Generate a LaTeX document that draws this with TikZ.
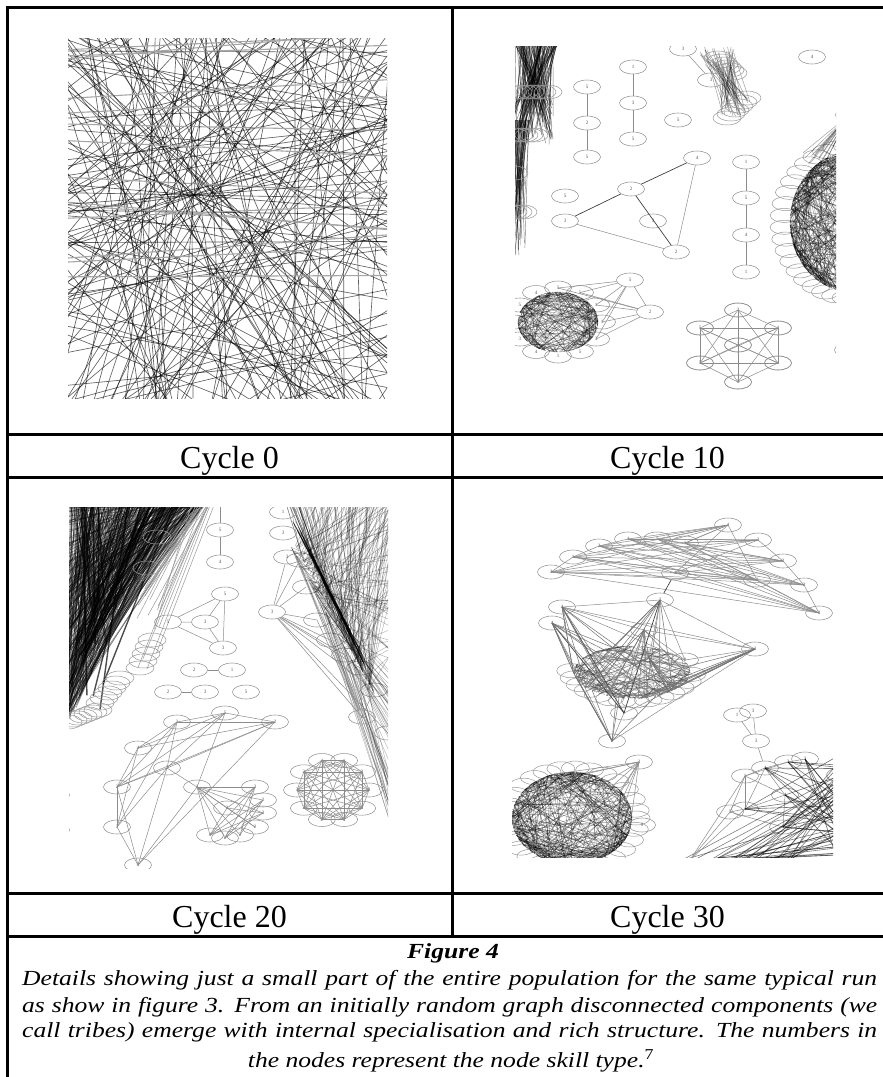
\documentclass[tikz,border=0pt]{standalone}
\usepackage{fontspec}
\setmainfont{Liberation Serif}
\newfontfamily\capfont[FakeStretch=1.19]{Liberation Serif}
\usetikzlibrary{shapes.geometric}
\tikzset{
 frame/.style={line width=3pt,black},
 cyc/.style={anchor=base,inner sep=0pt,font=\fontsize{32}{32}\selectfont},
 gn/.style={ellipse,draw=black!42,line width=0.55pt,minimum width=27pt,minimum height=14pt,inner sep=0pt,font=\fontsize{5}{5}\selectfont,text=black!65},
 ge/.style={draw=black!45,line width=0.5pt},
 gd/.style={draw=black!75,line width=0.7pt},
 ring/.style={draw=black!40,line width=0.5pt},
 dk/.style={draw=black,opacity=0.4,line width=0.45pt},
 rl/.style={draw=black,opacity=0.62,line width=0.65pt}
}
\newcommand\mychords[6]{\foreach \i in {1,...,#5}{\pgfmathsetmacro\myA{rnd*360}\pgfmathsetmacro\myB{rnd*360}\draw[dk,opacity=#6] ({#1+#3*cos(\myA)},{#2+#4*sin(\myA)}) -- ({#1+#3*cos(\myB)},{#2+#4*sin(\myB)});}}
\begin{document}
\begin{tikzpicture}[x=1pt,y=-1pt]
\pgfmathsetseed{4242}
\useasboundingbox (0,0) rectangle (883,1077);
\fill[white] (0,0) rectangle (883,1077);

% ---------------- Panel: Cycle 0
\begin{scope}
\clip (68,38) rectangle (387,398);
\foreach \i in {1,...,165}{\pgfmathsetmacro\px{68+rnd*319}\pgfmathsetmacro\py{38+rnd*360}\pgfmathsetmacro\th{rnd*180}
 \draw[rl] ({\px-600*cos(\th)},{\py-600*sin(\th)}) -- ({\px+600*cos(\th)},{\py+600*sin(\th)});}
\foreach \i in {1,...,14}{\pgfmathsetmacro\py{40+rnd*355}\pgfmathsetmacro\th{-5+rnd*10}
 \draw[black!35,line width=1.1pt] ({68-10},{\py}) -- ({400},{\py+340*sin(\th)});}
\foreach \i in {1,...,14}{\pgfmathsetmacro\th{rnd*180}
 \draw[rl] ({194-600*cos(\th)},{195-600*sin(\th)}) -- ({194+600*cos(\th)},{195+600*sin(\th)});}
\draw[rl] (191,38) -- (193,398);
\draw[rl] (343,38) -- (344,398);
\end{scope}

% ---------------- Panel: Cycle 10
\begin{scope}
\clip (515,46) rectangle (836,393);
\foreach \i in {1,...,140}{\pgfmathsetmacro\xa{515+rnd*42}\pgfmathsetmacro\xb{512+rnd*42}\pgfmathsetmacro\yb{100+rnd*45}\draw[dk,opacity=0.5] (\xa,46) -- (\xb,\yb);}
\foreach \i in {1,...,50}{\pgfmathsetmacro\xa{513+rnd*18}\pgfmathsetmacro\xb{510+rnd*15}\pgfmathsetmacro\yb{180+rnd*80}\draw[dk,opacity=0.5] (\xa,120) -- (\xb,\yb);}
\foreach \k in {0,...,5}\draw[ring] ({518+\k*6},92) ellipse (14 and 7);
\foreach \k in {0,...,4}\draw[ring] ({514+\k*5},135) ellipse (14 and 7);
\foreach \k in {0,...,3}\draw[ring] ({508+\k*5},212) ellipse (14 and 7);
\draw[ring] (514,173) ellipse (14 and 7);
\draw[ring] (502,252) ellipse (14 and 7);
% top middle stack
\foreach \i in {1,...,45}{\pgfmathsetmacro\xa{700+rnd*35}\pgfmathsetmacro\ya{46+rnd*20}\pgfmathsetmacro\xb{720+rnd*30}\pgfmathsetmacro\yb{95+rnd*22}\draw[dk] (\xa,\ya) -- (\xb,\yb);}
\foreach \k in {0,...,5}\draw[ring] ({718+\k*3},{58+\k*3}) ellipse (14 and 7);
\foreach \k in {0,...,5}\draw[ring] ({727+\k*4},{118-\k*4}) ellipse (14 and 7);
\node[gn] (t3a) at (683,49) {3};
\node[gn] (t3b) at (711,80) {3};
\node[gn] (t4) at (812,57) {4};
\node[gn] (tp) at (849,115) {};
\draw[ge] (t3a) -- (t3b);
% chains
\node[gn] (a1) at (587,87) {5};
\node[gn] (a2) at (587,123) {2};
\node[gn] (a3) at (587,157) {5};
\draw[ge] (a1) -- (a2) -- (a3);
\node[gn] (b1) at (633,67) {1};
\node[gn] (b2) at (633,103) {3};
\node[gn] (b3) at (633,139) {5};
\draw[ge] (b1) -- (b2) -- (b3);
\node[gn] (c1) at (678,120) {5};
% triangle graph
\node[gn] (g4) at (697,158) {4};
\node[gn] (g2) at (631,189) {2};
\node[gn] (g3) at (565,221) {3};
\node[gn] (g3b) at (653,221) {3};
\node[gn] (g2b) at (676,252) {2};
\node[gn] (g5) at (565,196) {5};
\draw[gd] (g3) -- (g2);
\draw[gd] (g2) -- (g4);
\draw[ge] (g3) -- (g2b);
\draw[gd] (g2) -- (g2b);
\draw[ge] (g4) -- (g2b);
% chain 1-5-4-1
\node[gn] (d1) at (746,162) {1};
\node[gn] (d2) at (746,198) {5};
\node[gn] (d3) at (746,235) {4};
\node[gn] (d4) at (746,272) {1};
\draw[ge] (d1) -- (d2) -- (d3) -- (d4);
% big right cluster
\foreach \k in {0,...,19}{\pgfmathsetmacro\ang{95+\k*9}\draw[ring] ({852+68*cos(\ang)},{222+76*sin(\ang)}) ellipse (14 and 7);}
\mychords{852}{222}{62}{70}{420}{0.4}
\foreach \i in {1,...,14}{\pgfmathsetmacro\xb{803+rnd*22}\pgfmathsetmacro\yb{150+rnd*25}\draw[dk] (tp) -- (\xb,\yb);}
% bottom-left cluster
\foreach \k/\l in {0/1,1/3,2/5,3/1,4/4,5/3,6/3,7/5,8/4,9/5,10/5,11/1}{\node[gn] (bl\k) at ({558+44*cos(\k*30)},{322+34*sin(\k*30)}) {\l};}
\mychords{558}{322}{40}{30}{220}{0.35}
\node[gn] (n5) at (630,280) {5};
\node[gn] (n2) at (650,312) {2};
\draw[ge] (n5) -- (n2);
\foreach \k in {9,10,11,0,1}{\draw[ge] (n5) -- (bl\k.center); \draw[ge] (n2) -- (bl\k.center);}
% heptagon
\node[gn] (h1) at (738,310) {3};
\node[gn] (h2) at (700,328) {5};
\node[gn] (h3) at (778,328) {4};
\node[gn] (h4) at (700,363) {5};
\node[gn] (h5) at (778,363) {4};
\node[gn] (h6) at (738,382) {5};
\node[gn] (h7) at (738,345) {2};
\foreach \a in {1,...,7}{\foreach \b in {1,...,7}{\ifnum\a<\b \draw[ge] (h\a.center) -- (h\b.center);\fi}}
\foreach \k in {1,...,7}{\node[gn,fill=white,fill opacity=0] at (h\k) {};}
\node[gn] (pr) at (848,350) {};
\end{scope}

% ---------------- Panel: Cycle 20
\begin{scope}
\clip (69,507) rectangle (388,868);
\foreach \i in {1,...,380}{\pgfmathsetmacro\t{rnd}\pgfmathsetmacro\xa{69+rnd*135}\pgfmathsetmacro\yb{560+\t*160}\pgfmathsetmacro\xb{60+rnd*(150-80*\t-60)}
 \draw[dk,opacity=0.45] (\xa,507) -- (\xb,\yb);}
\foreach \i in {1,...,120}{\pgfmathsetmacro\ya{507+rnd*210}\pgfmathsetmacro\xb{69+rnd*130}\draw[dk,opacity=0.45] (69,\ya) -- (\xb,507);}
\foreach \i in {1,...,18}{\pgfmathsetmacro\xa{80+rnd*110}\pgfmathsetmacro\yb{600+rnd*110}\pgfmathsetmacro\xb{65+rnd*40}\draw[black,opacity=0.7,line width=1.4pt] (\xa,507) -- (\xb,\yb);}
\foreach \i in {1,...,18}{\pgfmathsetmacro\xa{190+rnd*25}\pgfmathsetmacro\xb{135+rnd*25}\pgfmathsetmacro\yb{580+rnd*90}\draw[black!40,line width=0.5pt] (\xa,507) -- (\xb,\yb);}
\foreach \k in {0,...,4}\draw[ring] ({152-\k*3},{640+\k*7}) ellipse (14 and 7);
\foreach \k in {0,...,5}\draw[ring] ({120-\k*4},{678+\k*5}) ellipse (14 and 7);
\foreach \k in {0,...,6}\draw[ring] ({98-\k*5},{710+\k*2}) ellipse (14 and 7);
\draw[ring] (157,537) ellipse (14 and 7);
\draw[ring] (147,568) ellipse (14 and 7);
% chain 5-4
\coordinate (s0) at (220,505);
\node[gn] (s5) at (220,530) {5};
\node[gn] (s4) at (220,562) {4};
\draw[ge] (s0) -- (s5) -- (s4);
% triangle cluster
\node[gn] (u5) at (225,594) {5};
\node[gn] (u5l) at (168,622) {5};
\node[gn] (u3) at (205,622) {3};
\node[gn] (u3b) at (223,648) {3};
\draw[ge] (u5l) -- (u3) (u3) -- (u5) (u3) -- (u3b) (u5) -- (u3b) (u5l) -- (u5) (u5l) -- (u3b);
\node[gn] (v2) at (194,670) {2};
\node[gn] (v1) at (232,670) {1};
\draw[ge] (v2) -- (v1);
\node[gn] (w2) at (168,692) {2};
\node[gn] (w3) at (205,692) {3};
\node[gn] (w5) at (246,692) {5};
\draw[ge] (w2) -- (w3);
% right cluster
\foreach \n/\x/\y in {k1/300/560,k2/306/587,k3/317/620,k4/330/640,k5/345/655,k6/360/668,k7/374/690}{\node[gn] (\n) at (\x,\y) {};}
\foreach \i in {1,...,120}{\pgfmathsetmacro\t{rnd}\pgfmathsetmacro\xa{290+\t*80}\pgfmathsetmacro\ya{545+\t*150}\pgfmathsetmacro\yb{507+rnd*320}\draw[dk,opacity=0.3] (\xa,\ya) -- (390,\yb);}
\foreach \i in {1,...,110}{\pgfmathsetmacro\t{rnd}\pgfmathsetmacro\xa{295+\t*80}\pgfmathsetmacro\ya{545+\t*150}\pgfmathsetmacro\xb{285+rnd*105}\draw[dk,opacity=0.35] (\xa,\ya) -- (\xb,507);}
\foreach \i in {1,...,60}{\pgfmathsetmacro\t{rnd}\pgfmathsetmacro\s{rnd}\draw[dk,opacity=0.45] ({292+\t*75},{520+\t*150}) -- ({295+\s*75},{520+\s*150});}
\node[gn] (r1) at (283,512) {1};
\node[gn] (r2) at (283,533) {3};
\node[gn] (r3) at (287,557) {3};
\node[gn] (rr) at (272,612) {3};
\node[gn] (r4) at (362,717) {4};
\node[gn] (r5) at (388,733) {};
\foreach \n in {k1,k2,k3,k4,k5,k6,k7,r4,r5}{\draw[ge] (rr) -- (\n.center);}
\foreach \n in {k3,k4,k5,k6,k7}{\draw[ge] (r4) -- (\n.center);}
\draw[ge] (rr) -- (r3);
% bottom graph
\node[gn] (b5) at (225,713) {5};
\node[gn] (b2a) at (177,722) {2};
\node[gn] (b2b) at (275,722) {2};
\node[gn] (b4) at (138,748) {4};
\node[gn] (b2c) at (167,768) {2};
\node[gn] (b2d) at (197,787) {2};
\node[gn] (b2e) at (117,787) {2};
\node[gn] (b3) at (117,827) {3};
\node[gn] (b4b) at (138,865) {4};
\foreach \a/\b in {b5/b2a,b5/b2b,b5/b4,b5/b2c,b5/b2e,b2a/b2b,b2a/b4,b2a/b2c,b2a/b3,b2b/b4,b2b/b2c,b2b/b2e,b2b/b4b,b4/b2e,b4/b3,b2c/b2e,b2c/b2d,b2c/b3,b2e/b3,b2e/b4b,b3/b4b,b2d/b4b,b2c/b4b,b5/b2d,b2a/b2e}{\draw[ge] (\a.center) -- (\b.center);}
\node[gn] (e3a) at (255,787) {3};
\node[gn] (e2a) at (263,800) {2};
\node[gn] (e3b) at (263,813) {3};
\node[gn] (e2b) at (255,827) {2};
\node[gn] (e2c) at (240,835) {2};
\node[gn] (e2d) at (225,838) {2};
\node[gn] (e4) at (210,835) {4};
\node[gn] (e3c) at (227,808) {3};
\foreach \n in {e3a,e2a,e3b,e2b,e2c,e2d,e4,e3c}{\draw[ge] (b2d.center) -- (\n.center);}
\foreach \a/\b in {e3a/e2c,e3a/e2d,e3a/e4,e2a/e4,e2a/e2d,e3b/e4,e3b/e3c,e2b/e3c,e3c/e3a,e3c/e4,e2a/e2c,e3b/e2d}{\draw[ge] (\a.center) -- (\b.center);}
% ring graph
\foreach \k/\l in {0/3,1/3,2/4,3/2,4/2,5/3,6/3,7/4,8/1,9/2}{\node[gn] (q\k) at ({333+36*cos(\k*36)},{790+31*sin(\k*36)}) {\l};}
\foreach \a in {0,...,9}{\foreach \b in {0,...,9}{\ifnum\a<\b \draw[ge] (q\a.center) -- (q\b.center);\fi}}
\node[gn] (q10) at (56,795) {};
\node[gn] (q11) at (56,830) {};
\end{scope}

% ---------------- Panel: Cycle 30
\begin{scope}
\clip (512,517) rectangle (833,857);
\node[gn] (p4a) at (728,525) {4};
\node[gn] (p3a) at (758,540) {3};
\node[gn] (p1a) at (685,543) {1};
\node[gn] (p1b) at (657,539) {1};
\node[gn] (p4b) at (628,539) {4};
\node[gn] (p2a) at (599,546) {2};
\node[gn] (p1c) at (573,557) {1};
\node[gn] (p3b) at (551,572) {3};
\node[gn] (p4c) at (675,573) {4};
\node[gn] (p2b) at (783,561) {2};
\node[gn] (p3c) at (757,580) {3};
\node[gn] (p3d) at (804,585) {3};
\node[gn] (p3e) at (819,613) {3};
\foreach \a in {p3b,p1c,p2a,p4b,p1b,p1a,p4c}{\foreach \b in {p4a,p3a,p2b,p3c,p3d,p3e}{\draw[ge] (\a.center) -- (\b.center);}}
\foreach \a/\b in {p3b/p1c,p1c/p2a,p2a/p4b,p4b/p1b,p1b/p1a,p1a/p4a,p3b/p4c,p1c/p4c,p2a/p4c,p3a/p2b,p2b/p3d,p3d/p3e,p3c/p3e,p4a/p3c}{\draw[ge] (\a.center) -- (\b.center);}
% middle graph
\foreach \k in {0,...,13}{\pgfmathsetmacro\ang{15+\k*12}\draw[ring] ({632+62*cos(\ang)},{665+36*sin(\ang)}) ellipse (14 and 7);}
\foreach \k in {0,...,7}{\pgfmathsetmacro\ang{30+\k*17}\draw[ring] ({632+42*cos(\ang)},{665+24*sin(\ang)}) ellipse (14 and 7);}
\mychords{632}{672}{58}{26}{110}{0.35}
\node[gn] (m3) at (660,600) {3};
\node[gn] (m4a) at (562,607) {4};
\node[gn] (m4b) at (552,623) {4};
\node[gn] (m4c) at (644,630) {4};
\node[gn] (m2a) at (755,649) {2};
\node[gn] (m1) at (649,658) {1};
\node[gn] (m2b) at (685,660) {2};
\node[gn] (m2c) at (624,713) {2};
\node[gn] (m2d) at (612,741) {2};
\draw[gd] (p4c) -- (m3);
\foreach \a/\b in {m3/m4a,m3/m2a,m3/m1,m3/m2b,m4a/m2a,m4a/m4c,m4c/m2a,m2a/m2b,m2a/m2c,m2a/m2d,m2c/m2d,m4b/m2d,m4c/m1,m4c/m2b,m4a/m2b}{\draw[ge] (\a.center) -- (\b.center);}
\draw[gd] (m4b.center) -- (m2c.center);
\draw[gd] (m4a.center) -- (m2c.center);
\draw[gd] (m3.center) -- (m2c.center);
\foreach \n in {m4c,m1,m3,m4a,m4b,m2a,m2d}{\foreach \i in {1,...,8}{\pgfmathsetmacro\ang{10+rnd*160}\draw[ge,draw=black!55] (\n.center) -- ({632+60*cos(\ang)},{665+34*sin(\ang)});}}
% chain
\node[gn] (c1) at (737,715) {1};
\node[gn] (c3) at (753,711) {3};
\node[gn] (c3b) at (756,741) {3};
\node[gn] (r4) at (765,768) {4};
\draw[ge] (c1) -- (c3b) (c3) -- (c3b) (c3b) -- (r4);
% bottom-left dense
\foreach \k in {0,...,27}{\pgfmathsetmacro\ang{\k*13}\draw[ring] ({572+64*cos(\ang)},{818+50*sin(\ang)}) ellipse (14 and 7);}
\mychords{572}{818}{60}{46}{300}{0.4}
\node[gn] (o3a) at (639,762) {3};
\node[gn] (o3b) at (642,825) {3};
\foreach \i in {1,...,10}{\pgfmathsetmacro\ang{rnd*360}\draw[ge] (o3a.center) -- ({572+60*cos(\ang)},{818+46*sin(\ang)});}
% bottom-right cluster
\node[gn] (r3a) at (788,762) {3};
\node[gn] (r3b) at (805,759) {3};
\node[gn] (r1a) at (745,776) {1};
\node[gn] (r4b) at (785,795) {4};
\node[gn] (r5) at (730,812) {5};
\node[gn] (r4c) at (745,809) {4};
\node[gn] (r1b) at (783,827) {1};
\node[gn] (rx) at (840,775) {};
\foreach \a/\b in {r1a/r4,r4/r3a,r3a/r3b,r1a/r4b,r4/r4b,r5/r4c,r1a/r5,r1a/r4c,r4c/r4b,r5/r1b,r4/r4c,r4b/r1b,r1a/r3a}{\draw[ge] (\a.center) -- (\b.center);}
\foreach \n in {r4,r3a,r3b,r4b,r1b,r4c}{\foreach \i in {1,...,5}{\pgfmathsetmacro\yb{755+rnd*105}\draw[dk,opacity=0.55,line width=0.6pt] (\n.center) -- (836,\yb);}}
\foreach \i in {1,...,45}{\pgfmathsetmacro\ya{775+rnd*90}\pgfmathsetmacro\xb{675+rnd*120}\draw[dk,opacity=0.5,line width=0.6pt] (836,\ya) -- (\xb,860);}
\foreach \n in {r5,r4c,r1a}{\draw[ge] (\n.center) -- (690,860);}
\end{scope}

% ---------------- Table frame
\draw[frame] (883,7) -- (7,7) -- (7,1077);
\draw[frame] (452,7) -- (452,936);
\draw[frame] (7,434) -- (883,434);
\draw[frame] (7,477) -- (883,477);
\draw[frame] (7,893) -- (883,893);
\draw[frame] (7,936) -- (883,936);

% ---------------- Labels
\node[cyc] (l0) at (229.5,468) {Cycle 0};
\node[cyc] (l10) at (667.5,468) {Cycle 10};
\node[cyc] (l20) at (229.5,927) {Cycle 20};
\node[cyc] (l30) at (667.5,927) {Cycle 30};

% ---------------- Caption
\node[anchor=base,inner sep=0pt,font=\capfont\bfseries\itshape\fontsize{21.5}{26}\selectfont] (fig) at (453,958) {Figure 4};
\node[anchor=base west,inner sep=0pt,font=\capfont\itshape\fontsize{21.5}{26}\selectfont] (cap1) at (22,985) {\makebox[855pt][s]{Details showing just a small part of the entire population for the same typical run}};
\node[anchor=base west,inner sep=0pt,font=\capfont\itshape\fontsize{21.5}{26}\selectfont] (cap2) at (22,1012) {\makebox[855pt][s]{as show in figure 3. From an initially random graph disconnected components (we}};
\node[anchor=base west,inner sep=0pt,font=\capfont\itshape\fontsize{21.5}{26}\selectfont] (cap3) at (22,1037) {\makebox[855pt][s]{call tribes) emerge with internal specialisation and rich structure. The numbers in}};
\node[anchor=base,inner sep=0pt,font=\capfont\itshape\fontsize{21.5}{26}\selectfont] (cap4) at (451,1067) {the nodes represent the node skill type.\textsuperscript{\upshape 7}};
\end{tikzpicture}
\end{document}
